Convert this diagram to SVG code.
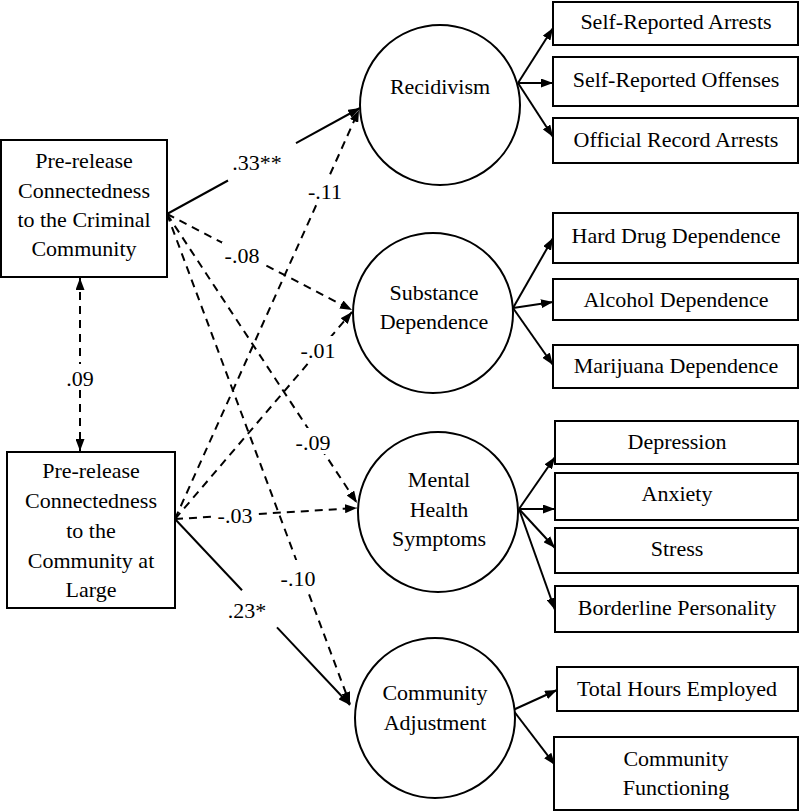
<svg xmlns="http://www.w3.org/2000/svg" width="800" height="812" viewBox="0 0 800 812">
<style>
text{font-family:'Liberation Serif','Times New Roman','DejaVu Serif',serif;font-size:22px;fill:#000;text-anchor:middle}
.box{fill:#fff;stroke:#000;stroke-width:2}
.lat{fill:#fff;stroke:#000;stroke-width:2}
.sol{fill:none;stroke:#000;stroke-width:2}
.dash{fill:none;stroke:#000;stroke-width:2;stroke-dasharray:8,6}
.bg{fill:#fff;stroke:none}
</style>
<defs>
<marker id="ah" viewBox="0 0 12 9" refX="12" refY="4.5" markerWidth="12" markerHeight="9" markerUnits="userSpaceOnUse" orient="auto-start-reverse">
<path d="M0,0 L12,4.5 L0,9 z" fill="#000"/>
</marker>
</defs>
<rect width="800" height="812" fill="#fff"/>

<g id="connectors" font-family="Liberation Serif, serif">
<line class="dash" x1="80" y1="278" x2="80" y2="451" marker-start="url(#ah)" marker-end="url(#ah)"/>
<line class="sol" x1="167" y1="214" x2="228" y2="180.5"/>
<line class="sol" x1="296" y1="143.1" x2="360" y2="108" marker-end="url(#ah)"/>
<line class="dash" x1="167" y1="214" x2="352" y2="310" marker-end="url(#ah)"/>
<line class="dash" x1="167" y1="214" x2="357" y2="503" marker-end="url(#ah)"/>
<line class="dash" x1="167" y1="214" x2="350" y2="704" marker-end="url(#ah)"/>
<line class="dash" x1="175" y1="519" x2="359" y2="110" marker-end="url(#ah)"/>
<line class="dash" x1="175" y1="519" x2="352" y2="312" marker-end="url(#ah)"/>
<line class="dash" x1="175" y1="519" x2="357" y2="508" marker-end="url(#ah)"/>
<line class="sol" x1="175" y1="519" x2="242" y2="590.2"/>
<line class="sol" x1="277" y1="627.4" x2="350" y2="705" marker-end="url(#ah)"/>
<line class="sol" x1="518" y1="83" x2="553" y2="28" marker-end="url(#ah)"/>
<line class="sol" x1="518" y1="83" x2="553" y2="83" marker-end="url(#ah)"/>
<line class="sol" x1="518" y1="83" x2="553" y2="137" marker-end="url(#ah)"/>
<line class="sol" x1="513" y1="308" x2="553" y2="238" marker-end="url(#ah)"/>
<line class="sol" x1="513" y1="308" x2="553" y2="302" marker-end="url(#ah)"/>
<line class="sol" x1="513" y1="308" x2="553" y2="365" marker-end="url(#ah)"/>
<line class="sol" x1="519" y1="509" x2="555" y2="457" marker-end="url(#ah)"/>
<line class="sol" x1="519" y1="509" x2="555" y2="509" marker-end="url(#ah)"/>
<line class="sol" x1="519" y1="509" x2="555" y2="548" marker-end="url(#ah)"/>
<line class="sol" x1="519" y1="509" x2="555" y2="610" marker-end="url(#ah)"/>
<line class="sol" x1="513" y1="710" x2="557" y2="690" marker-end="url(#ah)"/>
<line class="sol" x1="513" y1="710" x2="555" y2="765" marker-end="url(#ah)"/>
<text x="257" y="170">.33**</text>
<rect class="bg" x="306" y="178" width="38" height="24"/>
<text x="325" y="199">-.11</text>
<rect class="bg" x="222" y="242" width="40" height="24"/>
<text x="242" y="263">-.08</text>
<rect class="bg" x="298" y="336" width="40" height="26"/>
<text x="318" y="358">-.01</text>
<rect class="bg" x="293" y="428" width="40" height="26"/>
<text x="313" y="450">-.09</text>
<rect class="bg" x="213" y="500" width="44" height="26"/>
<text x="235" y="523">-.03</text>
<rect class="bg" x="278" y="560" width="40" height="32"/>
<text x="298" y="586">-.10</text>
<text x="247" y="618">.23*</text>
<rect class="bg" x="62" y="364" width="36" height="26"/>
<text x="80" y="386">.09</text>
</g>

<g id="criminal-community">
<rect class="box" x="1" y="140" width="166" height="137"/>
<text x="84" y="168">Pre-release</text>
<text x="84" y="198">Connectedness</text>
<text x="84" y="227">to the Criminal</text>
<text x="84" y="256">Community</text>
</g>
<g id="community-at-large">
<rect class="box" x="7" y="452" width="168" height="156"/>
<text x="91" y="478">Pre-release</text>
<text x="91" y="508">Connectedness</text>
<text x="91" y="538">to the</text>
<text x="91" y="568">Community at</text>
<text x="91" y="597">Large</text>
</g>

<g id="recidivism">
<circle class="lat" cx="440" cy="105" r="80"/>
<text x="440" y="94">Recidivism</text>
</g>
<g id="substance">
<circle class="lat" cx="433" cy="313" r="80"/>
<text x="434" y="300">Substance</text>
<text x="434" y="329">Dependence</text>
</g>
<g id="mental">
<circle class="lat" cx="438" cy="512" r="80"/>
<text x="439" y="487">Mental</text>
<text x="439" y="517">Health</text>
<text x="439" y="546">Symptoms</text>
</g>
<g id="community-adjustment">
<circle class="lat" cx="435" cy="718" r="80"/>
<text x="435" y="700">Community</text>
<text x="435" y="730">Adjustment</text>
</g>

<g id="self-reported-arrests"><rect class="box" x="553" y="2" width="245" height="43"/><text x="676" y="29">Self-Reported Arrests</text></g>
<g id="self-reported-offenses"><rect class="box" x="553" y="57" width="245" height="49"/><text x="676" y="87">Self-Reported Offenses</text></g>
<g id="official-record-arrests"><rect class="box" x="553" y="118" width="245" height="45"/><text x="676" y="147">Official Record Arrests</text></g>
<g id="hard-drug"><rect class="box" x="553" y="213" width="245" height="50"/><text x="676" y="243">Hard Drug Dependence</text></g>
<g id="alcohol"><rect class="box" x="553" y="279" width="245" height="41"/><text x="676" y="307">Alcohol Dependence</text></g>
<g id="marijuana"><rect class="box" x="553" y="345" width="245" height="43"/><text x="676" y="373">Marijuana Dependence</text></g>
<g id="depression"><rect class="box" x="555" y="421" width="243" height="43"/><text x="677" y="449">Depression</text></g>
<g id="anxiety"><rect class="box" x="555" y="473" width="243" height="47"/><text x="677" y="501">Anxiety</text></g>
<g id="stress"><rect class="box" x="555" y="528" width="243" height="45"/><text x="677" y="556">Stress</text></g>
<g id="borderline"><rect class="box" x="555" y="586" width="243" height="46"/><text x="677" y="615">Borderline Personality</text></g>
<g id="total-hours"><rect class="box" x="557" y="667" width="241" height="44"/><text x="677" y="696">Total Hours Employed</text></g>
<g id="community-functioning"><rect class="box" x="554" y="737" width="244" height="73"/><text x="676" y="766">Community</text><text x="676" y="795">Functioning</text></g>
</svg>
